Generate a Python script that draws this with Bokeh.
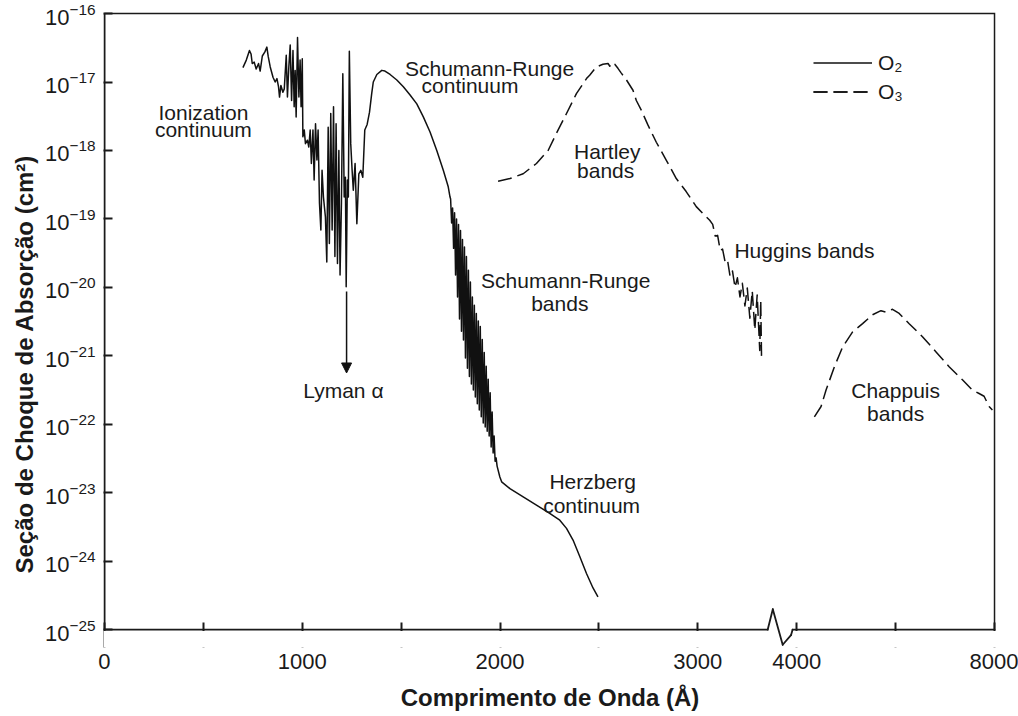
import numpy as np
from bokeh.plotting import figure
from bokeh.models import (Range1d, FixedTicker, LogTickFormatter, Label, Arrow, NormalHead,
                          Legend, LegendItem, PolyAnnotation, Title)
from bokeh.embed import file_html
from bokeh.resources import INLINE

# ---------------- data (wavelength in Angstrom, log10 of cross section in cm^2) -------------
o2_wavelength = [
    700, 717, 733, 741, 747, 757, 767, 779, 787, 798, 811, 821, 828, 838, 852, 863, 872, 880,
    885, 892, 902, 909, 919, 925, 932, 939, 946, 953, 959, 964, 969, 976, 983, 989, 994, 1000,
    1003, 1010, 1016, 1026, 1033, 1040, 1046, 1054, 1060, 1067, 1074, 1080, 1087, 1094, 1100,
    1107, 1117, 1124, 1131, 1137, 1144, 1151, 1158, 1165, 1171, 1178, 1185, 1191, 1198, 1205,
    1212, 1218, 1222, 1228, 1233, 1238, 1245, 1252, 1258, 1267, 1276, 1286, 1296, 1306, 1316,
    1328, 1340, 1351, 1359, 1377, 1402, 1418, 1444, 1478, 1511, 1545, 1579, 1612, 1646, 1680,
    1713, 1738, 1747,
    1750, 1755, 1760, 1765, 1770, 1775, 1780, 1785, 1790, 1795, 1800, 1805, 1810, 1815, 1820,
    1825, 1830, 1835, 1840, 1845, 1850, 1855, 1860, 1865, 1870, 1875, 1880, 1885, 1890, 1895,
    1900, 1905, 1910, 1915, 1920, 1925, 1930, 1935, 1940, 1945, 1950, 1955, 1960, 1965, 1970,
    1975, 1980, 1985,
    1999, 2008, 2050, 2117, 2184, 2251, 2302, 2336, 2369, 2403, 2437, 2470, 2495,
]
o2_log_sigma = [
    -16.79, -16.68, -16.54, -16.59, -16.73, -16.71, -16.81, -16.73, -16.84, -16.62, -16.56,
    -16.49, -16.63, -16.78, -16.93, -17.00, -16.95, -17.07, -17.22, -17.05, -17.15, -17.10,
    -16.61, -17.22, -16.78, -16.46, -17.27, -16.54, -17.36, -16.83, -17.51, -16.35, -17.22,
    -16.68, -17.36, -16.66, -17.80, -17.70, -17.90, -17.85, -17.95, -17.70, -18.19, -17.70,
    -18.43, -17.61, -18.14, -17.70, -18.77, -19.16, -18.29, -18.68, -18.97, -19.63, -17.66,
    -19.36, -17.46, -19.16, -17.36, -19.55, -17.61, -19.65, -18.00, -19.82, -18.77, -16.88,
    -18.68, -18.39, -19.99, -18.43, -18.68, -16.55, -17.90, -18.29, -18.58, -18.19, -19.07,
    -18.34, -18.29, -18.39, -17.70, -17.62, -17.44, -17.17, -17.00, -16.89, -16.83, -16.84,
    -16.89, -16.97, -17.07, -17.19, -17.32, -17.51, -17.73, -18.00, -18.29, -18.53, -18.68,
    -18.71, -19.06, -18.84, -19.43, -18.91, -19.82, -19.00, -20.14, -19.08, -20.46, -19.17,
    -20.64, -19.30, -20.77, -19.41, -21.03, -19.55, -21.18, -19.75, -21.30, -19.92, -21.41,
    -20.14, -21.50, -20.26, -21.60, -20.38, -21.70, -20.49, -21.79, -20.57, -21.89, -20.76,
    -21.98, -20.95, -22.04, -21.15, -22.10, -21.34, -22.17, -21.54, -22.33, -21.82, -22.42,
    -22.17, -22.54, -22.49, -22.61,
    -22.77, -22.84, -22.94, -23.06, -23.18, -23.30, -23.40, -23.52, -23.69, -23.93, -24.18,
    -24.39, -24.52,
]
o3_uv_wavelength = [
    1990, 2050, 2117, 2184, 2243, 2285, 2336, 2386, 2437, 2453, 2487, 2520, 2546, 2555, 2563,
    2580, 2596, 2613, 2639, 2672, 2689, 2714, 2748, 2790, 2840, 2891, 2941, 2992, 3025, 3060,
    3075, 3088, 3100, 3113, 3125, 3138, 3150, 3163, 3175, 3188, 3200, 3213, 3225, 3238, 3250,
    3263, 3275, 3288, 3300, 3313, 3318, 3322,
]
o3_uv_log_sigma = [
    -18.45, -18.41, -18.34, -18.19, -18.00, -17.75, -17.46, -17.17, -16.95, -16.90, -16.78,
    -16.74, -16.73, -16.77, -16.72, -16.74, -16.80, -16.87, -16.97, -17.12, -17.27, -17.41,
    -17.63, -17.88, -18.14, -18.41, -18.60, -18.82, -18.92, -19.02,
    -19.08, -19.25, -19.24, -19.46, -19.44, -19.63, -19.60, -19.84, -19.76, -20.00, -19.86,
    -20.14, -19.94, -20.27, -20.01, -20.45, -20.05, -20.62, -20.11, -20.92, -20.19, -21.02,
]
o3_vis_wavelength = [
    4357, 4492, 4593, 4761, 4928, 5130, 5332, 5534, 5703, 5804, 5937, 6072, 6274, 6543, 6813,
    7082, 7351, 7553, 7688, 7789, 7890, 7957,
]
o3_vis_log_sigma = [
    -21.89, -21.74, -21.50, -21.16, -20.87, -20.65, -20.53, -20.40, -20.34, -20.36, -20.32,
    -20.38, -20.53, -20.72, -20.94, -21.16, -21.35, -21.50, -21.55, -21.59, -21.74, -21.79,
]

x_tick_values = [0, 500, 1000, 1500, 2000, 2500, 3000, 4000, 6000, 8000]
x_tick_labels = ["0", "", "1000", "", "2000", "", "3000", "4000", "", "8000"]
y_tick_exponents = [-25, -24, -23, -22, -21, -20, -19, -18, -17, -16]

# annotation texts: text, anchor wavelength, log10 sigma of the baseline, alignment
label_texts = ["Ionization", "continuum", "Schumann-Runge", "continuum", "Hartley", "bands",
               "Huggins bands", "Schumann-Runge", "bands", "Herzberg", "continuum",
               "Chappuis", "bands", "Lyman \u03b1"]
label_wavelengths = [500, 500, 1947, 1848, 2542, 2534, 3185, 2332, 2302, 2468, 2463,
                     6000, 6000, 1208]
label_log_sigmas = [-17.44, -17.70, -16.80, -17.05, -18.02, -18.29, -19.46, -19.90, -20.23,
                    -22.83, -23.18, -21.50, -21.84, -21.50]
label_aligns = ["center", "center", "center", "center", "center", "center", "left",
                "center", "center", "center", "center", "center", "center", "center"]

lyman_alpha_wavelength = 1224
lyman_arrow_log_sigma = (-20.06, -21.25)

# broken x axis: linear up to the break, then 4000..8000 compressed by 4
AXIS_BREAK_DISPLAY = 3500
AXIS_BREAK_REAL = 4000
COMPRESS = 4.0
X_MIN, X_MAX = 0, 8000
Y_MIN_EXP, Y_MAX_EXP = -25, -16


def to_axis(w):
    w = np.asarray(w, dtype=float)
    return np.where(w < AXIS_BREAK_REAL, w,
                    AXIS_BREAK_DISPLAY + (w - AXIS_BREAK_REAL) / COMPRESS)


FONT = "Liberation Sans"
INK = "#1a1a1a"
x_right = float(to_axis(X_MAX))
y_lo, y_hi = 10.0 ** Y_MIN_EXP, 10.0 ** Y_MAX_EXP
y_frame_lo = 10 ** -25.26

p = figure(width=1018, height=716, y_axis_type="log",
           x_range=Range1d(-5, x_right + 10), y_range=Range1d(y_frame_lo, 10 ** -15.97),
           output_backend="svg", toolbar_location=None,
           min_border_left=103, min_border_right=22, min_border_top=11, min_border_bottom=69)

p.xgrid.visible = False
p.ygrid.visible = False
p.outline_line_color = None
p.background_fill_color = "white"
p.border_fill_color = "white"

# left axis line and top/right border
p.line([X_MIN, X_MIN], [y_lo, y_hi], line_color=INK, line_width=2)
p.line([X_MIN, x_right, x_right], [y_hi, y_hi, y_lo], line_color=INK, line_width=1.5,
       line_join="miter")

r_o2 = p.line(to_axis(o2_wavelength), 10.0 ** np.array(o2_log_sigma),
              line_color="#111111", line_width=1.5, line_join="round")
r_o3a = p.line(to_axis(o3_uv_wavelength), 10.0 ** np.array(o3_uv_log_sigma),
               line_color="#111111", line_width=1.5, line_dash="14 6", line_join="round")
r_o3b = p.line(to_axis(o3_vis_wavelength), 10.0 ** np.array(o3_vis_log_sigma),
               line_color="#111111", line_width=1.5, line_dash="14 6", line_join="round")

# axes
xa = p.xaxis[0]
ya = p.yaxis[0]
xa.ticker = FixedTicker(ticks=to_axis(x_tick_values).tolist())
xa.major_label_overrides = {float(v): lab for v, lab in zip(to_axis(x_tick_values), x_tick_labels)}
ya.ticker = FixedTicker(ticks=[10.0 ** e for e in y_tick_exponents])
ya.formatter = LogTickFormatter()
for ax in (xa, ya):
    ax.axis_line_color = None
    ax.major_tick_line_width = 2
    ax.major_tick_line_color = INK
    ax.major_tick_out = 0
    ax.minor_tick_line_color = None
    ax.major_label_text_font = FONT
    ax.major_label_text_font_size = "22px"
    ax.major_label_text_color = INK
ya.major_tick_in = 9
ya.major_label_standoff = 8
ya.major_label_text_baseline = "top"
xa.major_tick_in = 25          # lower part is hidden by the white strip below the axis line
xa.major_label_standoff = 6
xa.axis_label = "Comprimento de Onda (\u00c5)"
xa.axis_label_standoff = 12
xa.axis_label_text_font = FONT
xa.axis_label_text_font_style = "bold"
xa.axis_label_text_font_size = "24px"
xa.axis_label_text_color = INK

# y title
p.add_layout(Title(text="Se\u00e7\u00e3o de Choque de Absor\u00e7\u00e3o (cm\u00b2)",
                   align="left", offset=74, standoff=8, text_font=FONT,
                   text_font_style="bold", text_font_size="24px", text_color=INK), "left")

# white strip under the axis line, then the axis line with its break zig-zag
p.add_layout(PolyAnnotation(xs=[-5, x_right + 10, x_right + 10, -5],
                            ys=[10 ** -25.02, 10 ** -25.02, 10 ** -25.4, 10 ** -25.4],
                            fill_color="white", fill_alpha=1.0, line_color=None))
break_xs = [3353, 3379, 3429, 3471, 3479]
break_log = [-25.0, -24.70, -25.22, -25.08, -25.0]
axis_xs = [X_MIN] + break_xs + [x_right]
axis_ys = [y_lo] + [10.0 ** v for v in break_log] + [y_lo]
for i in range(len(axis_xs) - 1):
    p.add_layout(Arrow(end=None, x_start=axis_xs[i], y_start=axis_ys[i],
                       x_end=axis_xs[i + 1], y_end=axis_ys[i + 1],
                       line_color=INK, line_width=1.8, line_cap="round"))

# text annotations
for t, w, ls, al in zip(label_texts, label_wavelengths, label_log_sigmas, label_aligns):
    p.add_layout(Label(x=float(to_axis(w)), y=10 ** ls, text=t, text_align=al,
                       text_baseline="alphabetic", text_font=FONT, text_font_size="21px",
                       text_color=INK))

# Lyman alpha arrow
lx = float(to_axis(lyman_alpha_wavelength))
p.add_layout(Arrow(end=NormalHead(size=10, fill_color="#111111", line_color="#111111"),
                   x_start=lx, y_start=10 ** lyman_arrow_log_sigma[0],
                   x_end=lx, y_end=10 ** lyman_arrow_log_sigma[1],
                   line_color="#111111", line_width=1.5))

legend = Legend(items=[LegendItem(label="O\u2082", renderers=[r_o2]),
                       LegendItem(label="O\u2083", renderers=[r_o3a, r_o3b])],
                location=(710, 541), orientation="vertical",
                glyph_width=59, glyph_height=29, label_height=29, label_width=20,
                label_standoff=6, spacing=0, padding=0, margin=0,
                border_line_color=None, background_fill_alpha=0,
                label_text_font=FONT, label_text_font_size="21px", label_text_color=INK)
p.add_layout(legend)

open("out.html", "w").write(file_html(p, INLINE))
